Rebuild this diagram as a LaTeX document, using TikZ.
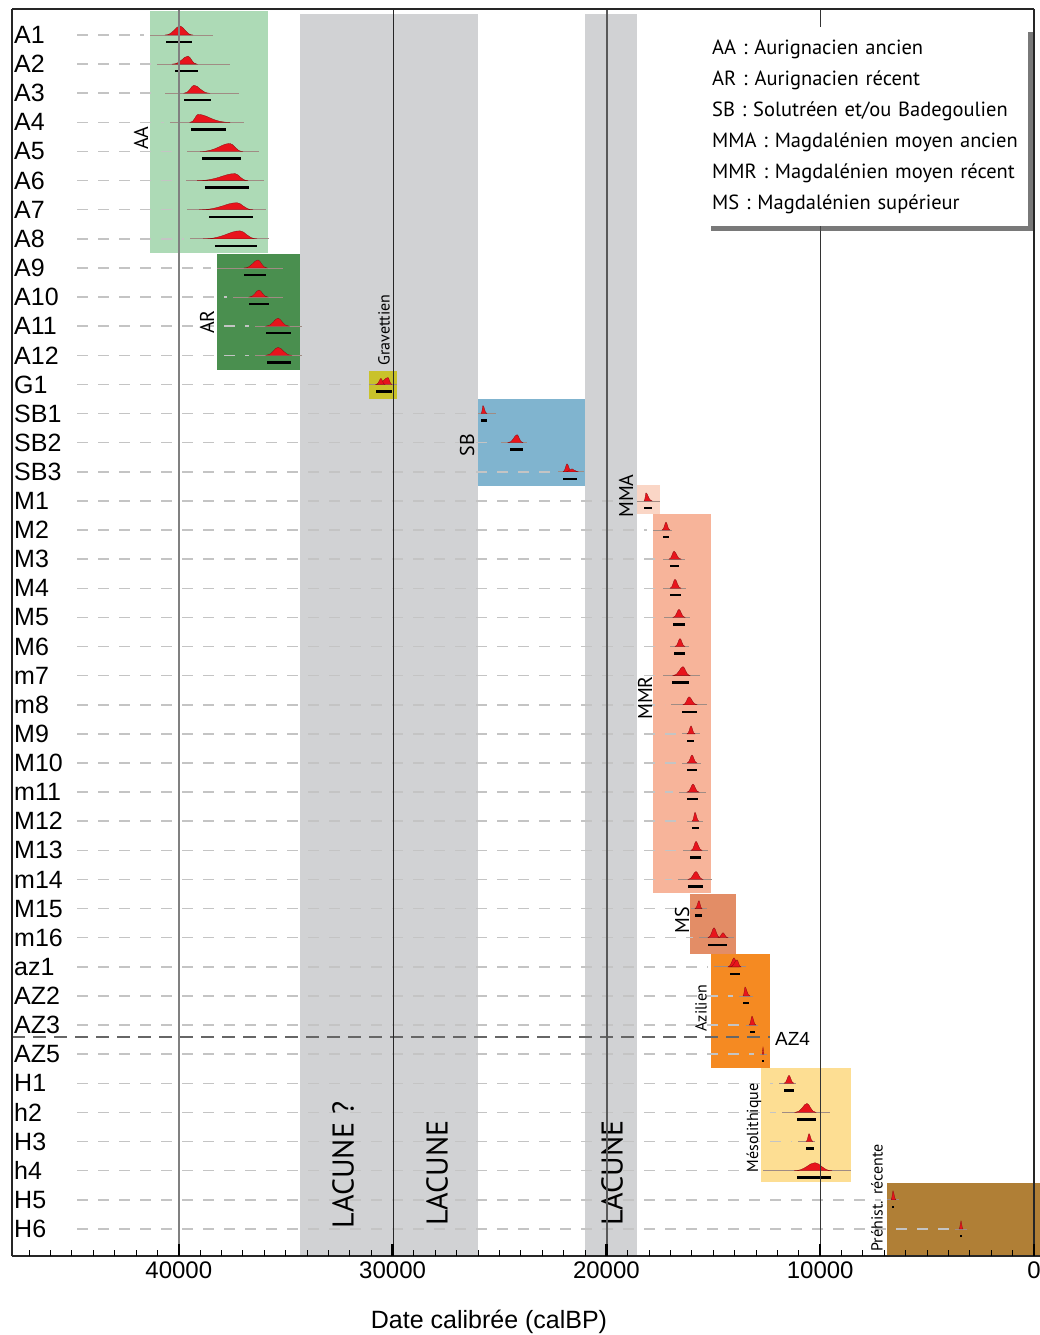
\documentclass[tikz,border=0pt]{standalone}
\usepackage{fontspec}
\setmainfont{Liberation Sans}
\newfontfamily\myriad{PT Sans}
\usetikzlibrary{positioning,shadows}
\definecolor{lacunegray}{HTML}{D1D2D4}
\definecolor{aacolor}{HTML}{ADDAB6}
\definecolor{arcolor}{HTML}{4A8F4F}
\definecolor{gravcolor}{HTML}{C9C22A}
\definecolor{sbcolor}{HTML}{80B4CF}
\definecolor{mmacolor}{HTML}{FAD6C6}
\definecolor{mmrcolor}{HTML}{F7B49A}
\definecolor{mscolor}{HTML}{E38D66}
\definecolor{azcolor}{HTML}{F58A22}
\definecolor{mesocolor}{HTML}{FDDE93}
\definecolor{prehcolor}{HTML}{B07F36}
\definecolor{distred}{HTML}{E8141C}
\definecolor{basebrown}{HTML}{A08C84}
\definecolor{rowgray}{HTML}{C4C4C4}
\tikzset{
    row label/.style={anchor=west,inner sep=0pt,font=\fontsize{25}{30}\selectfont},
    period label/.style={rotate=90,inner sep=0pt,font=\myriad\fontsize{20}{24}\selectfont},
    small period label/.style={period label,font=\myriad\fontsize{16}{19}\selectfont},
    lacune label/.style={period label,font=\myriad\fontsize{30}{36}\selectfont},
    axis num/.style={inner sep=0pt,font=\fontsize{24}{28}\selectfont},
    row dash/.style={draw=rowgray,line width=1.5pt,dash pattern=on 10.5pt off 10.5pt},
    split dash/.style={draw=black!60,line width=2.8pt,dash pattern=on 13pt off 8pt},
    base line/.style={draw=basebrown,line width=.8pt},
    dist/.style={fill=distred,draw=distred!60!black,line width=.3pt},
    range bar/.style={line width=2.4pt},
    minor tick/.style={line width=1pt},
    major tick/.style={line width=2.5pt},
    frame line/.style={line width=2.5pt,black!85},
    legend box/.style={anchor=north west,fill=white,
        drop shadow={shadow xshift=5pt,shadow yshift=-5pt,fill=black!70,opacity=.75},
        minimum width=322pt,minimum height=199pt,text width=310pt,inner xsep=6pt,
        align=left,font=\myriad\fontsize{20.5}{31}\selectfont},
}

\begin{document}
\begin{tikzpicture}[x=1pt,y=-1pt]
    \useasboundingbox (0,0) rectangle (1040,1335);

    % lacunes
    \fill[lacunegray] (300,14) rectangle (478,1256);
    \fill[lacunegray] (585,14) rectangle (637,1256);

    % periods
    \fill[aacolor] (150,11) rectangle (268,253);
    \fill[arcolor] (217,254) rectangle (300,370);
    \fill[gravcolor] (369,371) rectangle (397,399);
    \fill[sbcolor] (478,399) rectangle (585,486);
    \fill[mmacolor] (637,485) rectangle (660,514);
    \fill[mmrcolor] (653,514) rectangle (711,893);
    \fill[mscolor] (690,894) rectangle (736,954);
    \fill[azcolor] (711,954) rectangle (770,1068);
    \fill[mesocolor] (761,1068) rectangle (851,1182);
    \fill[prehcolor] (887,1183) rectangle (1040,1256);

    % row labels
    \foreach \lab [count=\i] in {A1,A2,A3,A4,A5,A6,A7,A8,A9,A10,A11,A12,G1,SB1,SB2,SB3,
        M1,M2,M3,M4,M5,M6,m7,m8,M9,M10,m11,M12,M13,m14,M15,m16,az1,AZ2,AZ3,AZ5,
        H1,h2,H3,h4,H5,H6}
        \node[row label] (row\i) at (14,{35+(\i-1)*29.12}) {\lab};

    % dates: row/line/peak/height/bar
    \foreach \i/\la/\lb/\pa/\pp/\pb/\h/\ba/\bb in {
        1/150/213/165/180/193/9/166/192, 2/157/230/172/188/197/8/175/198,
        3/165/239/184/194/210/8/184/211, 4/170/244/190/198/230/8/191/226,
        5/187/259/200/230/243/8/202/241, 6/186/264/197/235/248/7/205/249,
        7/187/266/199/237/253/7/209/253, 8/190/269/203/240/257/8/215/257,
        9/217/283/244/258/267/8/244/266, 10/233/283/249/259/268/7/249/269,
        11/255/302/266/278/289/8/266/291, 12/255/302/266/278/292/8/267/291,
        13/369/397/376/388/392/7/376/392, 14/478/496/481/483/487/8/481/487,
        15/501/527/508/517/523/8/510/523, 16/558/584/563/567/572/8/563/577,
        17/637/660/644/646/652/8/644/652, 18/653/672/662/666/670/8/663/669,
        19/663/685/669/674/681/8/670/679, 20/663/686/670/675/681/9/670/681,
        21/664/690/673/679/685/8/673/685, 22/670/689/675/680/685/8/674/685,
        23/663/700/673/683/690/9/672/689, 24/671/707/683/689/697/8/682/697,
        25/682/700/687/691/695/8/687/694, 26/682/701/687/692/697/8/687/697,
        27/679/706/687/693/699/8/687/698, 28/687/703/692/695/699/9/692/699,
        29/683/708/691/696/702/9/690/701, 30/678/712/688/696/703/8/688/703,
        31/691/707/695/699/702/8/695/702, 32/699/734/708/714/720/10/708/727,
        33/714/746/728/734/739/9/730/740, 34/739/753/743/745/750/9/743/749,
        35/746/758/749/752/756/9/750/755, 36/760/767/762/763/764/7/762/764,
        37/779/796/784/789/794/8/784/794, 38/782/830/795/807/816/9/797/816,
        39/798/815/806/809/813/8/806/814, 40/763/851/794/815/832/8/797/831,
        41/887/899/891/893/896/9/892/894, 42/955/967/959/961/963/8/960/962}
    {
        \pgfmathsetmacro\y{35+(\i-1)*29.12}
        \draw[row dash] (77,\y) -- ({\la-6},\y);
        \draw[base line] (\la,\y) -- (\lb,\y);
        \filldraw[dist] (\pa,\y) .. controls ({\pa+.55*(\pp-\pa)},\y) and ({\pp-.3*(\pp-\pa)},{\y-\h})
            .. (\pp,{\y-\h}) .. controls ({\pp+.3*(\pb-\pp)},{\y-\h}) and ({\pb-.55*(\pb-\pp)},\y)
            .. (\pb,\y) -- cycle;
        \draw[range bar] (\ba,{\y+7}) -- (\bb,{\y+7});
    }
    % second peaks
    \foreach \i/\pa/\pp/\pb/\h in {13/376/381/385/6, 16/566/572/578/3, 32/718/723/728/5, 33/730/737/741/7}
    {
        \pgfmathsetmacro\y{35+(\i-1)*29.12}
        \filldraw[dist] (\pa,\y) .. controls ({\pa+.55*(\pp-\pa)},\y) and ({\pp-.3*(\pp-\pa)},{\y-\h})
            .. (\pp,{\y-\h}) .. controls ({\pp+.3*(\pb-\pp)},{\y-\h}) and ({\pb-.55*(\pb-\pp)},\y)
            .. (\pb,\y) -- cycle;
    }

    \draw[split dash] (12,1037) -- (770,1037);
    \node[anchor=west,inner sep=0pt,font=\fontsize{19}{22}\selectfont] (az4) at (775,1039) {AZ4};

    % period names
    \node[period label] (aa) at (141,138) {AA};
    \node[period label] (ar) at (207,322) {AR};
    \node[small period label] (grav) at (384,330) {Gravettien};
    \node[period label] (sb) at (467,445) {SB};
    \node[period label] (mma) at (626,496) {MMA};
    \node[period label] (mmr) at (645,698) {MMR};
    \node[period label] (ms) at (682,920) {MS};
    \node[small period label] (azil) at (701,1008) {Azilien};
    \node[small period label] (meso) at (754,1128) {Mésolithique};
    \node[small period label] (preh) at (877,1198) {Préhist. récente};
    \node[lacune label] (lac1) at (343,1165) {LACUNE ?};
    \node[lacune label] (lac2) at (437,1173) {LACUNE};
    \node[lacune label] (lac3) at (612,1173) {LACUNE};

    % grid
    \draw[line width=1.5pt,black!50] (179,9) -- (179,1256);
    \draw[line width=1pt,black!85] (393,9) -- (393,1256);
    \draw[line width=1.5pt,black!65] (607,9) -- (607,1256);
    \draw[line width=1pt,black!80] (820,9) -- (820,1256);
    \draw[line width=1.5pt,black!85] (1034,9) -- (1034,1256);

    % frame and axis
    \draw[frame line] (12,1256) -- (12,9);
    \draw[line width=1.5pt,black!85] (12,9) -- (1034,9);
    \draw[frame line] (12,1256) -- (1040,1256);
    \foreach \k in {1,...,47}
        \draw[minor tick] ({1034-21.38*\k},1256) -- ++(0,-6);
    \foreach \v/\t in {0/0,10/10000,20/20000,30/30000,40/40000}
    {
        \draw[major tick] ({1034-21.38*\v},1256) -- ++(0,-12);
        \node[axis num] (num\v) at ({1034-21.38*\v},1270) {\t};
    }
    \node[font=\fontsize{25}{30}\selectfont,inner sep=0pt] (xtitle) at (489,1322) {Date calibrée (calBP)};

    % legend
    \node[legend box] (legend) at (706,27) {AA : Aurignacien ancien\\
        AR : Aurignacien récent\\
        SB : Solutréen et/ou Badegoulien\\
        MMA : Magdalénien moyen ancien\\
        MMR : Magdalénien moyen récent\\
        MS : Magdalénien supérieur};
\end{tikzpicture}
\end{document}
